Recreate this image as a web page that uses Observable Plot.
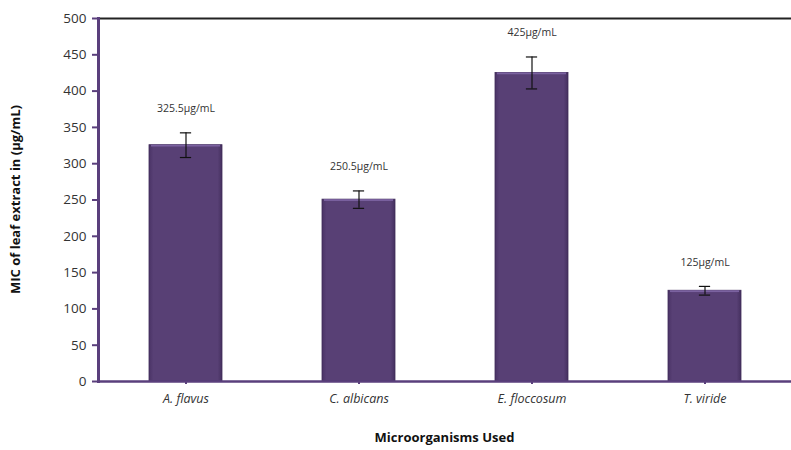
<!DOCTYPE html>
<html>
<head>
<meta charset="utf-8">
<script src="https://cdn.jsdelivr.net/npm/d3@7"></script>
<script src="https://cdn.jsdelivr.net/npm/@observablehq/plot@0.6"></script>
<style>
  html, body { margin: 0; padding: 0; background: #fff; overflow: hidden; }
  #chart svg { display: block; max-width: none; }
</style>
</head>
<body>
<div id="chart"></div>
<script>
const organisms = ["A. flavus", "C. albicans", "E. floccosum", "T. viride"];
const micValues = [325.5, 250.5, 425, 125];
const errors = [17, 12, 22, 6];
const labels = ["325.5µg/mL", "250.5µg/mL", "425µg/mL", "125µg/mL"];
const yTicks = [0, 50, 100, 150, 200, 250, 300, 350, 400, 450, 500];

const data = organisms.map((name, i) => ({
  name, value: micValues[i], lo: micValues[i] - errors[i], hi: micValues[i] + errors[i], label: labels[i]
}));

const W = 791, H = 450, mL = 98, mR = 0, mT = 18, mB = 69;
const pInner = 0.58, pOuter = 0.29;
const step = (W - mL - mR) / (organisms.length - pInner + 2 * pOuter);
const bw = step * (1 - pInner);
const capInset = (bw - 11) / 2;
const purple = "#5a3f7c";
const font = "'Open Sans', 'Noto Sans', sans-serif";

const chart = Plot.plot({
  width: W, height: H,
  marginLeft: mL, marginRight: mR, marginTop: mT, marginBottom: mB,
  style: { fontFamily: font, background: "#fff", maxWidth: "none" },
  x: { domain: organisms, paddingInner: pInner, paddingOuter: pOuter, label: null },
  y: { domain: [0, 500], label: null },
  marks: [
    Plot.barY(data, { x: "name", y: "value", fill: "url(#barGrad)", stroke: "#3f2b59", strokeWidth: 0.8 }),
    Plot.barY(data, { x: "name", y1: d => d.value - 2.5, y2: "value", fill: "#7b62a0", insetLeft: 2, insetRight: 2 }),
    Plot.ruleX(data, { x: "name", y1: "lo", y2: "hi", stroke: "#111", strokeWidth: 1.2 }),
    Plot.tickY(data, { x: "name", y: "hi", stroke: "#111", strokeWidth: 1.2, insetLeft: capInset, insetRight: capInset }),
    Plot.tickY(data, { x: "name", y: "lo", stroke: "#111", strokeWidth: 1.2, insetLeft: capInset, insetRight: capInset }),
    Plot.text(data, { x: "name", y: "hi", text: "label", dy: -24, fontSize: 10.5, fill: "#333", fontFamily: font }),
    Plot.frame({ anchor: "top", stroke: "#222", strokeWidth: 2 }),
    Plot.ruleY([0], { stroke: purple, strokeWidth: 2.5 }),
    Plot.frame({ anchor: "left", stroke: purple, strokeWidth: 3 }),
    Plot.axisY({ ticks: yTicks, tickSize: 6, tickPadding: 6, stroke: purple, strokeWidth: 2, fill: "#333", fontSize: 13.5, label: null }),
    Plot.axisX({ tickSize: 3, tickPadding: 10, stroke: purple, strokeWidth: 2, fill: "#333", fontSize: 12.5, label: null, fontStyle: "italic" })
  ]
});

const ns = "http://www.w3.org/2000/svg";
const defs = document.createElementNS(ns, "defs");
defs.innerHTML = `<linearGradient id="barGrad" x1="0" x2="1" y1="0" y2="0">
  <stop offset="0" stop-color="#4a3366"/>
  <stop offset="0.06" stop-color="#584075"/>
  <stop offset="0.94" stop-color="#584075"/>
  <stop offset="1" stop-color="#45305f"/>
</linearGradient>`;
chart.insertBefore(defs, chart.firstChild);
chart.querySelectorAll('g[aria-label="x-axis tick label"] text').forEach(t => t.setAttribute("font-style", "italic"));

const yTitle = document.createElementNS(ns, "text");
yTitle.setAttribute("transform", `translate(20, ${mT + (H - mT - mB) / 2}) rotate(-90)`);
yTitle.setAttribute("text-anchor", "middle");
yTitle.setAttribute("font-weight", "bold");
yTitle.setAttribute("font-size", "13");
yTitle.setAttribute("fill", "#111");
yTitle.textContent = "MIC of leaf extract in (µg/mL)";
chart.appendChild(yTitle);

const xTitle = document.createElementNS(ns, "text");
xTitle.setAttribute("x", mL + (W - mL - mR) / 2);
xTitle.setAttribute("y", 442);
xTitle.setAttribute("text-anchor", "middle");
xTitle.setAttribute("font-weight", "bold");
xTitle.setAttribute("font-size", "13");
xTitle.setAttribute("fill", "#111");
xTitle.textContent = "Microorganisms Used";
chart.appendChild(xTitle);

document.getElementById("chart").appendChild(chart);
</script>
</body>
</html>
